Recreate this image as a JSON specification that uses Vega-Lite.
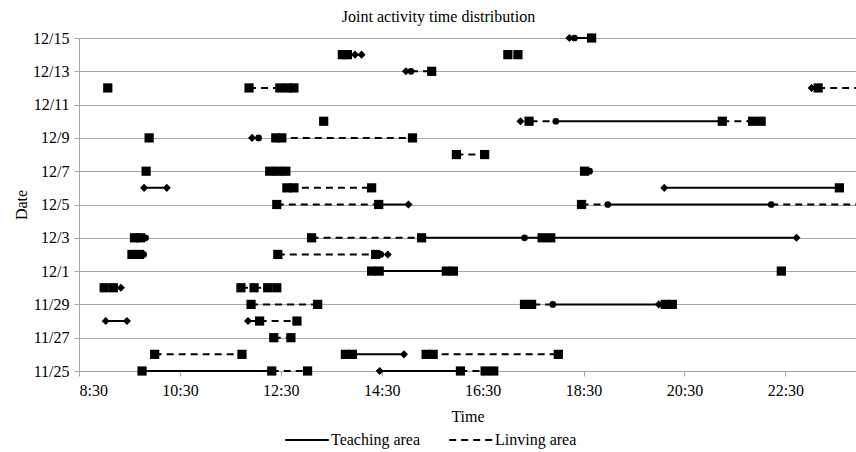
{
  "$schema": "https://vega.github.io/schema/vega-lite/v6.json",
  "autosize": {"type": "none"},
  "width": 777,
  "height": 333,
  "padding": {"left": 79, "top": 38, "right": 0, "bottom": 81},
  "background": "white",
  "title": {"text": "Joint activity time distribution", "font": "Liberation Serif", "fontSize": 16, "fontWeight": "normal", "color": "black", "offset": 5, "dx": -29},
  "config": {"view": {"stroke": null}},
  "datasets": {
    "segs": [
      {"d": 0, "start": 9.75, "end": 12.32, "area": "Teaching area"},
      {"d": 0, "start": 12.32, "end": 13.03, "area": "Linving area"},
      {"d": 0, "start": 14.46, "end": 16.06, "area": "Teaching area"},
      {"d": 0, "start": 16.06, "end": 16.55, "area": "Linving area"},
      {"d": 1, "start": 10.0, "end": 11.73, "area": "Linving area"},
      {"d": 1, "start": 13.85, "end": 14.94, "area": "Teaching area"},
      {"d": 1, "start": 15.45, "end": 18.0, "area": "Linving area"},
      {"d": 2, "start": 12.36, "end": 12.7, "area": "Linving area"},
      {"d": 3, "start": 9.03, "end": 9.45, "area": "Teaching area"},
      {"d": 3, "start": 11.85, "end": 12.08, "area": "Teaching area"},
      {"d": 3, "start": 12.08, "end": 12.82, "area": "Linving area"},
      {"d": 4, "start": 11.91, "end": 13.23, "area": "Linving area"},
      {"d": 4, "start": 17.5, "end": 17.89, "area": "Linving area"},
      {"d": 4, "start": 17.89, "end": 19.99, "area": "Teaching area"},
      {"d": 5, "start": 11.71, "end": 11.97, "area": "Linving area"},
      {"d": 5, "start": 11.97, "end": 12.24, "area": "Linving area"},
      {"d": 6, "start": 14.36, "end": 15.85, "area": "Teaching area"},
      {"d": 7, "start": 12.44, "end": 14.42, "area": "Linving area"},
      {"d": 8, "start": 13.11, "end": 15.29, "area": "Linving area"},
      {"d": 8, "start": 15.29, "end": 22.72, "area": "Teaching area"},
      {"d": 10, "start": 12.42, "end": 14.44, "area": "Linving area"},
      {"d": 10, "start": 14.44, "end": 15.03, "area": "Teaching area"},
      {"d": 10, "start": 18.46, "end": 18.98, "area": "Linving area"},
      {"d": 10, "start": 18.98, "end": 22.22, "area": "Teaching area"},
      {"d": 10, "start": 22.22, "end": 23.9, "area": "Linving area"},
      {"d": 11, "start": 9.79, "end": 10.24, "area": "Teaching area"},
      {"d": 11, "start": 12.68, "end": 14.3, "area": "Linving area"},
      {"d": 11, "start": 20.1, "end": 23.57, "area": "Teaching area"},
      {"d": 13, "start": 15.98, "end": 16.54, "area": "Linving area"},
      {"d": 14, "start": 11.93, "end": 12.06, "area": "Teaching area"},
      {"d": 14, "start": 12.46, "end": 15.11, "area": "Linving area"},
      {"d": 15, "start": 17.45, "end": 17.95, "area": "Linving area"},
      {"d": 15, "start": 17.95, "end": 21.25, "area": "Teaching area"},
      {"d": 15, "start": 21.25, "end": 21.85, "area": "Linving area"},
      {"d": 17, "start": 11.87, "end": 12.48, "area": "Linving area"},
      {"d": 17, "start": 23.15, "end": 23.9, "area": "Linving area"},
      {"d": 18, "start": 15.08, "end": 15.49, "area": "Linving area"},
      {"d": 19, "start": 13.77, "end": 14.1, "area": "Teaching area"},
      {"d": 20, "start": 18.32, "end": 18.66, "area": "Teaching area"}
    ],
    "pts": [
      {"d": 0, "t": 9.75, "shape": "square"},
      {"d": 0, "t": 12.32, "shape": "square"},
      {"d": 0, "t": 13.03, "shape": "square"},
      {"d": 0, "t": 14.46, "shape": "diamond"},
      {"d": 0, "t": 16.06, "shape": "square"},
      {"d": 0, "t": 16.55, "shape": "square"},
      {"d": 0, "t": 16.72, "shape": "square"},
      {"d": 1, "t": 10.0, "shape": "square"},
      {"d": 1, "t": 11.73, "shape": "square"},
      {"d": 1, "t": 13.78, "shape": "square"},
      {"d": 1, "t": 13.92, "shape": "square"},
      {"d": 1, "t": 14.94, "shape": "diamond"},
      {"d": 1, "t": 15.38, "shape": "square"},
      {"d": 1, "t": 15.52, "shape": "square"},
      {"d": 1, "t": 18.0, "shape": "square"},
      {"d": 2, "t": 12.36, "shape": "square"},
      {"d": 2, "t": 12.7, "shape": "square"},
      {"d": 3, "t": 9.03, "shape": "diamond"},
      {"d": 3, "t": 9.45, "shape": "diamond"},
      {"d": 3, "t": 11.85, "shape": "diamond"},
      {"d": 3, "t": 12.08, "shape": "square"},
      {"d": 3, "t": 12.82, "shape": "square"},
      {"d": 4, "t": 11.91, "shape": "square"},
      {"d": 4, "t": 13.23, "shape": "square"},
      {"d": 4, "t": 17.33, "shape": "square"},
      {"d": 4, "t": 17.47, "shape": "square"},
      {"d": 4, "t": 17.89, "shape": "circle"},
      {"d": 4, "t": 19.99, "shape": "diamond"},
      {"d": 4, "t": 20.12, "shape": "square"},
      {"d": 4, "t": 20.26, "shape": "square"},
      {"d": 5, "t": 9.0, "shape": "square"},
      {"d": 5, "t": 9.18, "shape": "square"},
      {"d": 5, "t": 9.33, "shape": "diamond"},
      {"d": 5, "t": 11.71, "shape": "square"},
      {"d": 5, "t": 11.97, "shape": "square"},
      {"d": 5, "t": 12.24, "shape": "square"},
      {"d": 5, "t": 12.42, "shape": "square"},
      {"d": 6, "t": 14.3, "shape": "square"},
      {"d": 6, "t": 14.45, "shape": "square"},
      {"d": 6, "t": 15.78, "shape": "square"},
      {"d": 6, "t": 15.92, "shape": "square"},
      {"d": 6, "t": 22.42, "shape": "square"},
      {"d": 7, "t": 9.55, "shape": "square"},
      {"d": 7, "t": 9.7, "shape": "square"},
      {"d": 7, "t": 9.78, "shape": "circle"},
      {"d": 7, "t": 12.44, "shape": "square"},
      {"d": 7, "t": 14.38, "shape": "square"},
      {"d": 7, "t": 14.48, "shape": "circle"},
      {"d": 7, "t": 14.62, "shape": "diamond"},
      {"d": 8, "t": 9.6, "shape": "square"},
      {"d": 8, "t": 9.72, "shape": "square"},
      {"d": 8, "t": 9.82, "shape": "circle"},
      {"d": 8, "t": 13.11, "shape": "square"},
      {"d": 8, "t": 15.29, "shape": "square"},
      {"d": 8, "t": 17.33, "shape": "circle"},
      {"d": 8, "t": 17.68, "shape": "square"},
      {"d": 8, "t": 17.85, "shape": "square"},
      {"d": 8, "t": 22.72, "shape": "diamond"},
      {"d": 10, "t": 12.42, "shape": "square"},
      {"d": 10, "t": 14.44, "shape": "square"},
      {"d": 10, "t": 15.03, "shape": "diamond"},
      {"d": 10, "t": 18.46, "shape": "square"},
      {"d": 10, "t": 18.98, "shape": "circle"},
      {"d": 10, "t": 22.22, "shape": "circle"},
      {"d": 11, "t": 9.79, "shape": "diamond"},
      {"d": 11, "t": 10.24, "shape": "diamond"},
      {"d": 11, "t": 12.62, "shape": "square"},
      {"d": 11, "t": 12.76, "shape": "square"},
      {"d": 11, "t": 14.3, "shape": "square"},
      {"d": 11, "t": 20.1, "shape": "diamond"},
      {"d": 11, "t": 23.57, "shape": "square"},
      {"d": 12, "t": 9.83, "shape": "square"},
      {"d": 12, "t": 12.28, "shape": "square"},
      {"d": 12, "t": 12.44, "shape": "square"},
      {"d": 12, "t": 12.6, "shape": "square"},
      {"d": 12, "t": 18.52, "shape": "square"},
      {"d": 12, "t": 18.62, "shape": "circle"},
      {"d": 13, "t": 15.98, "shape": "square"},
      {"d": 13, "t": 16.54, "shape": "square"},
      {"d": 14, "t": 9.89, "shape": "square"},
      {"d": 14, "t": 11.93, "shape": "diamond"},
      {"d": 14, "t": 12.06, "shape": "circle"},
      {"d": 14, "t": 12.4, "shape": "square"},
      {"d": 14, "t": 12.52, "shape": "square"},
      {"d": 14, "t": 15.11, "shape": "square"},
      {"d": 15, "t": 13.35, "shape": "square"},
      {"d": 15, "t": 17.25, "shape": "diamond"},
      {"d": 15, "t": 17.42, "shape": "square"},
      {"d": 15, "t": 17.95, "shape": "circle"},
      {"d": 15, "t": 21.25, "shape": "square"},
      {"d": 15, "t": 21.85, "shape": "square"},
      {"d": 15, "t": 22.02, "shape": "square"},
      {"d": 17, "t": 9.07, "shape": "square"},
      {"d": 17, "t": 11.87, "shape": "square"},
      {"d": 17, "t": 12.48, "shape": "square"},
      {"d": 17, "t": 12.64, "shape": "square"},
      {"d": 17, "t": 12.76, "shape": "square"},
      {"d": 17, "t": 23.02, "shape": "diamond"},
      {"d": 17, "t": 23.15, "shape": "square"},
      {"d": 18, "t": 14.98, "shape": "diamond"},
      {"d": 18, "t": 15.08, "shape": "circle"},
      {"d": 18, "t": 15.49, "shape": "square"},
      {"d": 19, "t": 13.72, "shape": "square"},
      {"d": 19, "t": 13.82, "shape": "square"},
      {"d": 19, "t": 13.97, "shape": "diamond"},
      {"d": 19, "t": 14.1, "shape": "diamond"},
      {"d": 19, "t": 17.0, "shape": "square"},
      {"d": 19, "t": 17.2, "shape": "square"},
      {"d": 20, "t": 18.22, "shape": "diamond"},
      {"d": 20, "t": 18.32, "shape": "circle"},
      {"d": 20, "t": 18.66, "shape": "square"}
    ]
  },
  "encoding": {
    "y": {"field": "d", "type": "quantitative", "scale": {"domain": [0, 20], "nice": false, "zero": false},
      "axis": {"title": "Date", "values": [0, 2, 4, 6, 8, 10, 12, 14, 16, 18, 20], "labelExpr": "datum.value <= 5 ? '11/' + (25 + datum.value) : '12/' + (datum.value - 5)", "labelOverlap": false, "grid": true, "gridColor": "#a6a6a6", "gridWidth": 1.2, "domainColor": "#a6a6a6", "tickColor": "#a6a6a6", "tickSize": 5, "labelFont": "Liberation Serif", "labelFontSize": 16, "labelColor": "black", "labelPadding": 5, "titleFont": "Liberation Serif", "titleFontSize": 16, "titleFontWeight": "normal", "titleColor": "black", "titlePadding": 3}}
  },
  "layer": [
    {
      "data": {"name": "segs"},
      "mark": {"type": "rule", "color": "black", "strokeWidth": 2},
      "encoding": {
        "x": {"field": "start", "type": "quantitative", "scale": {"domain": [8.5, 23.9], "nice": false, "zero": false},
          "axis": {"title": "Time", "values": [8.5, 10.5, 12.5, 14.5, 16.5, 18.5, 20.5, 22.5], "labelExpr": "floor(datum.value) + ':30'", "labelOverlap": false, "grid": false, "domainColor": "#a6a6a6", "tickColor": "#a6a6a6", "tickSize": 5, "labelFont": "Liberation Serif", "labelFontSize": 16, "labelColor": "black", "labelPadding": 6, "titleFont": "Liberation Serif", "titleFontSize": 16, "titleFontWeight": "normal", "titleColor": "black", "titlePadding": 10}},
        "x2": {"field": "end"},
        "strokeDash": {"field": "area", "type": "nominal", "scale": {"domain": ["Teaching area", "Linving area"], "range": [[1, 0], [7, 5]]},
          "legend": {"title": null, "orient": "none", "legendX": 205, "legendY": 379, "direction": "horizontal", "symbolType": "stroke", "symbolStrokeColor": "black", "symbolStrokeWidth": 2, "symbolSize": 1900, "labelFont": "Liberation Serif", "labelFontSize": 16, "labelColor": "black", "labelOffset": 1, "columnPadding": 24}}
      }
    },
    {
      "data": {"name": "pts"},
      "mark": {"type": "point", "filled": true, "color": "black", "opacity": 1},
      "encoding": {
        "x": {"field": "t", "type": "quantitative", "scale": {"domain": [8.5, 23.9], "nice": false, "zero": false},
          "axis": {"title": "Time", "values": [8.5, 10.5, 12.5, 14.5, 16.5, 18.5, 20.5, 22.5], "labelExpr": "floor(datum.value) + ':30'", "labelOverlap": false, "grid": false, "domainColor": "#a6a6a6", "tickColor": "#a6a6a6", "tickSize": 5, "labelFont": "Liberation Serif", "labelFontSize": 16, "labelColor": "black", "labelPadding": 6, "titleFont": "Liberation Serif", "titleFontSize": 16, "titleFontWeight": "normal", "titleColor": "black", "titlePadding": 10}},
        "shape": {"field": "shape", "type": "nominal", "scale": {"domain": ["square", "diamond", "circle"], "range": ["square", "diamond", "circle"]}, "legend": null},
        "size": {"field": "shape", "type": "nominal", "scale": {"domain": ["square", "diamond", "circle"], "range": [85, 45, 80]}, "legend": null}
      }
    }
  ]
}
